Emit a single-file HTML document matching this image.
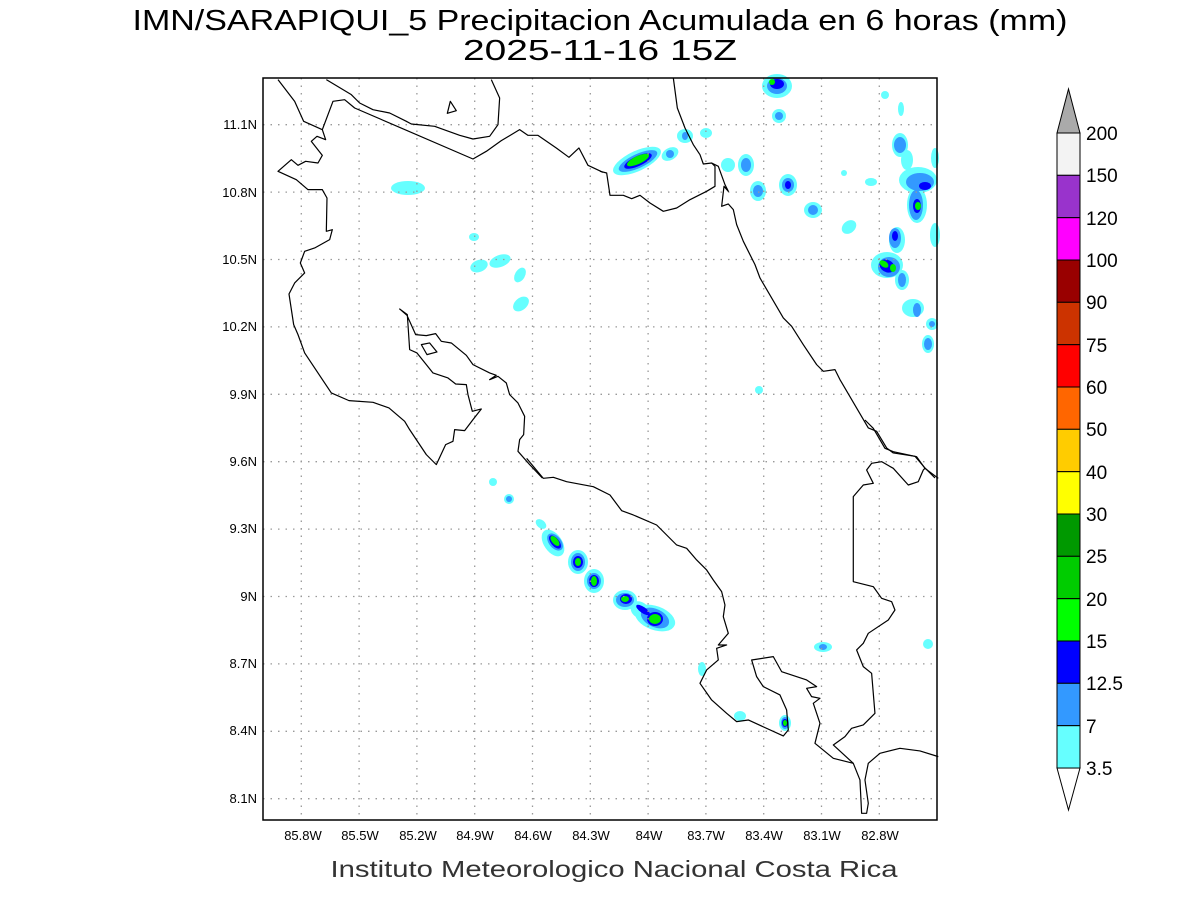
<!DOCTYPE html>
<html><head><meta charset="utf-8"><style>
html,body{margin:0;padding:0;background:#fff;}
svg{display:block;font-family:"Liberation Sans",sans-serif;}
</style></head><body>
<svg width="1200" height="900" viewBox="0 0 1200 900" xmlns="http://www.w3.org/2000/svg">
<rect width="1200" height="900" fill="#fff"/>
<text x="600" y="30" font-size="29" text-anchor="middle" textLength="935" lengthAdjust="spacingAndGlyphs">IMN/SARAPIQUI_5 Precipitacion Acumulada en 6 horas (mm)</text>
<text x="600" y="60" font-size="29" text-anchor="middle" textLength="274" lengthAdjust="spacingAndGlyphs">2025-11-16 15Z</text>

<!-- precipitation -->
<g>
<g fill="#66ffff">
<ellipse cx="408" cy="188" rx="17" ry="7"/>
<ellipse cx="474" cy="237" rx="5" ry="4"/>
<ellipse cx="479" cy="266" rx="9" ry="6" transform="rotate(-20 479 266)"/>
<ellipse cx="500" cy="261" rx="11" ry="6" transform="rotate(-20 500 261)"/>
<ellipse cx="520" cy="275" rx="5" ry="8" transform="rotate(30 520 275)"/>
<ellipse cx="521" cy="304" rx="9" ry="6" transform="rotate(-40 521 304)"/>
<ellipse cx="637" cy="161" rx="26" ry="10" transform="rotate(-25 637 161)"/>
<ellipse cx="670" cy="154" rx="9" ry="6" transform="rotate(-30 670 154)"/>
<ellipse cx="685" cy="136" rx="8" ry="7"/>
<ellipse cx="706" cy="133" rx="6" ry="5"/>
<ellipse cx="777" cy="86" rx="15" ry="12"/>
<ellipse cx="779" cy="116" rx="7" ry="7"/>
<ellipse cx="728" cy="165" rx="7" ry="7"/>
<ellipse cx="746" cy="165" rx="8" ry="11"/>
<ellipse cx="758" cy="191" rx="8" ry="10"/>
<ellipse cx="788" cy="185" rx="9" ry="11"/>
<ellipse cx="813" cy="210" rx="9" ry="8"/>
<ellipse cx="849" cy="227" rx="8" ry="6" transform="rotate(-40 849 227)"/>
<ellipse cx="844" cy="173" rx="3" ry="3"/>
<ellipse cx="871" cy="182" rx="6" ry="4"/>
<ellipse cx="885" cy="95" rx="4" ry="4"/>
<ellipse cx="901" cy="109" rx="3" ry="7"/>
<ellipse cx="900" cy="145" rx="8" ry="12"/>
<ellipse cx="918" cy="180" rx="19" ry="13"/>
<ellipse cx="917" cy="205" rx="10" ry="18"/>
<ellipse cx="897" cy="240" rx="8" ry="13"/>
<ellipse cx="907" cy="160" rx="6" ry="10"/>
<ellipse cx="935" cy="235" rx="5" ry="12"/>
<ellipse cx="935" cy="158" rx="4" ry="10"/>
<ellipse cx="887" cy="265" rx="16" ry="13"/>
<ellipse cx="902" cy="280" rx="7" ry="10"/>
<ellipse cx="913" cy="308" rx="11" ry="9"/>
<ellipse cx="932" cy="324" rx="6" ry="6"/>
<ellipse cx="928" cy="344" rx="6" ry="9"/>
<ellipse cx="759" cy="390" rx="4" ry="4"/>
<ellipse cx="493" cy="482" rx="4" ry="4"/>
<ellipse cx="509" cy="499" rx="5" ry="5"/>
<ellipse cx="541" cy="524" rx="6" ry="4" transform="rotate(40 541 524)"/>
<ellipse cx="553" cy="543" rx="15" ry="9" transform="rotate(55 553 543)"/>
<ellipse cx="578" cy="562" rx="10" ry="12"/>
<ellipse cx="594" cy="581" rx="10" ry="12"/>
<ellipse cx="625" cy="600" rx="12" ry="10"/>
<ellipse cx="640" cy="610" rx="10" ry="8" transform="rotate(35 640 610)"/>
<ellipse cx="655" cy="618" rx="21" ry="12" transform="rotate(20 655 618)"/>
<ellipse cx="702" cy="669" rx="4" ry="7"/>
<ellipse cx="740" cy="716" rx="6" ry="5"/>
<ellipse cx="785" cy="723" rx="6" ry="8"/>
<ellipse cx="823" cy="647" rx="9" ry="5"/>
<ellipse cx="928" cy="644" rx="5" ry="5"/>
</g>
<g fill="#3399ff">
<ellipse cx="638" cy="161" rx="21" ry="7" transform="rotate(-25 638 161)"/>
<ellipse cx="670" cy="154" rx="4" ry="4"/>
<ellipse cx="685" cy="136" rx="3" ry="4"/>
<ellipse cx="777" cy="86" rx="10" ry="8"/>
<ellipse cx="779" cy="116" rx="4" ry="4"/>
<ellipse cx="746" cy="165" rx="5" ry="7"/>
<ellipse cx="758" cy="191" rx="5" ry="6"/>
<ellipse cx="788" cy="185" rx="6" ry="7"/>
<ellipse cx="813" cy="210" rx="5" ry="5"/>
<ellipse cx="900" cy="145" rx="6" ry="8"/>
<ellipse cx="920" cy="182" rx="14" ry="9"/>
<ellipse cx="916" cy="205" rx="7" ry="15"/>
<ellipse cx="895" cy="238" rx="6" ry="10"/>
<ellipse cx="889" cy="267" rx="11" ry="10"/>
<ellipse cx="902" cy="280" rx="4" ry="7"/>
<ellipse cx="917" cy="310" rx="4" ry="7"/>
<ellipse cx="932" cy="324" rx="3" ry="3"/>
<ellipse cx="928" cy="344" rx="4" ry="6"/>
<ellipse cx="509" cy="499" rx="3" ry="3"/>
<ellipse cx="555" cy="542" rx="10" ry="6" transform="rotate(50 555 542)"/>
<ellipse cx="578" cy="562" rx="7" ry="9"/>
<ellipse cx="594" cy="581" rx="7" ry="8"/>
<ellipse cx="625" cy="600" rx="9" ry="7"/>
<ellipse cx="655" cy="618" rx="15" ry="9" transform="rotate(25 655 618)"/>
<ellipse cx="785" cy="723" rx="4" ry="6"/>
<ellipse cx="823" cy="647" rx="4" ry="3"/>
</g>
<g fill="#0000ff">
<ellipse cx="638" cy="161" rx="15" ry="5" transform="rotate(-25 638 161)"/>
<ellipse cx="777" cy="84" rx="7" ry="5"/>
<ellipse cx="788" cy="185" rx="3" ry="4"/>
<ellipse cx="925" cy="186" rx="6" ry="4"/>
<ellipse cx="917" cy="206" rx="4" ry="7"/>
<ellipse cx="895" cy="236" rx="3" ry="5"/>
<ellipse cx="887" cy="266" rx="8" ry="6" transform="rotate(30 887 266)"/>
<ellipse cx="555" cy="542" rx="8" ry="4" transform="rotate(50 555 542)"/>
<ellipse cx="578" cy="562" rx="5" ry="6"/>
<ellipse cx="594" cy="581" rx="5" ry="6"/>
<ellipse cx="626" cy="599" rx="6" ry="5"/>
<ellipse cx="643" cy="610" rx="8" ry="3" transform="rotate(35 643 610)"/>
<ellipse cx="655" cy="619" rx="8" ry="7"/>
<ellipse cx="785" cy="723" rx="3" ry="4"/>
</g>
<g fill="#00ee00">
<ellipse cx="638" cy="160" rx="12" ry="4" transform="rotate(-25 638 160)"/>
<ellipse cx="772" cy="82" rx="3" ry="3"/>
<ellipse cx="918" cy="206" rx="3" ry="4"/>
<ellipse cx="884" cy="264" rx="5" ry="3" transform="rotate(35 884 264)"/>
<ellipse cx="893" cy="268" rx="3" ry="4"/>
<ellipse cx="555" cy="541" rx="6" ry="3" transform="rotate(50 555 541)"/>
<ellipse cx="578" cy="562" rx="3" ry="4"/>
<ellipse cx="594" cy="581" rx="3" ry="5"/>
<ellipse cx="625" cy="599" rx="4" ry="3"/>
<ellipse cx="655" cy="619" rx="6" ry="5"/>
<ellipse cx="785" cy="723" rx="2" ry="3"/>
</g>
</g>

<!-- grid -->
<g stroke="#999" stroke-width="1.3" stroke-dasharray="1.5,6" fill="none">
<path d="M301.3 78V820M359.1 78V820M416.9 78V820M474.7 78V820M532.5 78V820M590.3 78V820M648.1 78V820M705.9 78V820M763.7 78V820M821.5 78V820M879.3 78V820"/>
<path d="M263 124.7H937M263 192.1H937M263 259.5H937M263 326.9H937M263 394.3H937M263 461.7H937M263 529.1H937M263 596.5H937M263 663.9H937M263 731.3H937M263 798.7H937"/>
</g>

<!-- coastlines -->
<g fill="none" stroke="#000" stroke-width="1.2" stroke-linejoin="round">
<g transform="translate(263,78) scale(0.3333)">
<polyline vector-effect="non-scaling-stroke" points="45,5 95,70 122,130 178,155 188,185 162,175 145,190 178,232 165,255 128,250 105,262 85,245 45,280 100,305 135,335 178,335 192,360 190,460 208,455 200,485 155,510 125,520 112,555 125,585 95,615 78,648 92,740 105,770 125,825 205,945 258,968 330,973 378,990 425,1030 440,1055 490,1130 520,1160 548,1100 570,1090 575,1055 605,1058 630,1025 655,993 628,1000 615,950 610,920 578,918 555,900 510,885 490,860 462,825 440,815 433,710 410,693 432,712 458,770 490,773 518,767 535,790 565,795 610,832 630,860 680,885 700,892 680,905 705,895 730,915 740,950 765,975 785,1015 782,1070 770,1085 765,1120 800,1160 838,1200"/>
<polygon vector-effect="non-scaling-stroke" points="475,800 500,795 522,822 492,830"/>
<polygon vector-effect="non-scaling-stroke" points="562,70 580,98 553,106"/>
<polyline vector-effect="non-scaling-stroke" points="190,5 265,50 290,75 330,95 380,105 430,130 445,138 515,145 590,172 630,183 680,175 705,140 710,60 685,5"/>
<polyline vector-effect="non-scaling-stroke" points="178,155 210,70 245,65 275,90 630,243 670,220 715,188 770,155 795,172 825,172 880,210 918,238 948,210 975,262 1020,283"/>
</g>
<g transform="translate(600,78) scale(0.3333)">
<polyline vector-effect="non-scaling-stroke" points="220,0 232,90 255,150 280,200 300,230 310,258 335,255 345,265 345,325 320,340 270,365 230,390 190,400 150,375 120,352 95,362 70,352 30,352 20,285 0,280"/>
<polyline vector-effect="non-scaling-stroke" points="335,255 355,265 375,320 385,340 372,325 365,385 385,378 400,395 410,440 430,490 465,560 480,600 550,720 575,745 610,800 650,860 670,880 705,875 720,905 805,1050 830,1060 860,1110 880,1125 945,1135 975,1170 1005,1200"/>
</g>
<g transform="translate(420,420) scale(0.3333)">
<polyline vector-effect="non-scaling-stroke" points="320,115 370,175 400,172 440,185 520,200 570,225 605,272 640,285 710,315 770,375 800,385 830,420 860,450 880,480 905,515 915,555 910,590 925,640 895,675 920,675 890,685 895,720 860,750 840,790 875,840 920,880 950,905 985,900 1090,948 1105,930 1100,870 1080,825 1030,800 1010,770 995,720 1060,710 1085,755 1160,780 1190,800 1160,805 1175,830 1200,835 1180,850 1200,910 1185,970 1240,1015 1300,1030 1320,1080 1325,1180 1340,1180 1345,1150 1335,1080 1345,1030 1380,1000 1440,985 1500,993 1555,1010"/>
<polyline vector-effect="non-scaling-stroke" points="1335,0 1360,25 1395,85 1420,95 1490,110 1515,145 1555,175"/>
<polyline vector-effect="non-scaling-stroke" points="1515,145 1510,150 1495,185 1465,195 1420,145 1385,125 1355,130 1340,150 1360,190 1330,195 1300,230 1300,485 1360,500 1385,535 1415,545 1425,570 1405,600 1345,640 1330,670 1310,690 1330,740 1355,760 1365,880 1330,915 1295,925 1275,950 1240,975 1300,1030"/>
</g>
</g>

<rect x="263" y="78" width="674" height="742" fill="none" stroke="#000" stroke-width="1.5"/>

<!-- y labels -->
<g font-size="13" text-anchor="end">
<text x="257" y="129">11.1N</text>
<text x="257" y="197">10.8N</text>
<text x="257" y="264">10.5N</text>
<text x="257" y="331">10.2N</text>
<text x="257" y="399">9.9N</text>
<text x="257" y="466">9.6N</text>
<text x="257" y="533">9.3N</text>
<text x="257" y="601">9N</text>
<text x="257" y="668">8.7N</text>
<text x="257" y="735">8.4N</text>
<text x="257" y="803">8.1N</text>
</g>
<g font-size="13" text-anchor="middle">
<text x="303" y="840">85.8W</text>
<text x="360" y="840">85.5W</text>
<text x="418" y="840">85.2W</text>
<text x="475" y="840">84.9W</text>
<text x="533" y="840">84.6W</text>
<text x="591" y="840">84.3W</text>
<text x="649" y="840">84W</text>
<text x="706" y="840">83.7W</text>
<text x="764" y="840">83.4W</text>
<text x="822" y="840">83.1W</text>
<text x="880" y="840">82.8W</text>
</g>
<text x="614" y="877" font-size="23" text-anchor="middle" fill="#333" textLength="567" lengthAdjust="spacingAndGlyphs">Instituto Meteorologico Nacional Costa Rica</text>

<!-- colorbar -->
<g stroke="#000" stroke-width="1">
<polygon points="1057,133 1080,133 1068.5,89" fill="#aaaaaa"/>
<polygon points="1057,768 1080,768 1068.5,810" fill="#fff"/>
<rect x="1057" y="133" width="23" height="42.33" fill="#f3f3f3"/>
<rect x="1057" y="175.3" width="23" height="42.33" fill="#9933cc"/>
<rect x="1057" y="217.7" width="23" height="42.33" fill="#ff00ff"/>
<rect x="1057" y="260" width="23" height="42.33" fill="#990000"/>
<rect x="1057" y="302.3" width="23" height="42.33" fill="#cc3300"/>
<rect x="1057" y="344.7" width="23" height="42.33" fill="#ff0000"/>
<rect x="1057" y="387" width="23" height="42.33" fill="#ff6600"/>
<rect x="1057" y="429.3" width="23" height="42.33" fill="#ffcc00"/>
<rect x="1057" y="471.7" width="23" height="42.33" fill="#ffff00"/>
<rect x="1057" y="514" width="23" height="42.33" fill="#009900"/>
<rect x="1057" y="556.3" width="23" height="42.33" fill="#00cc00"/>
<rect x="1057" y="598.7" width="23" height="42.33" fill="#00ff00"/>
<rect x="1057" y="641" width="23" height="42.33" fill="#0000ff"/>
<rect x="1057" y="683.3" width="23" height="42.33" fill="#3399ff"/>
<rect x="1057" y="725.7" width="23" height="42.33" fill="#66ffff"/>
</g>
<g font-size="19">
<text x="1086" y="140">200</text>
<text x="1086" y="182">150</text>
<text x="1086" y="225">120</text>
<text x="1086" y="267">100</text>
<text x="1086" y="309">90</text>
<text x="1086" y="352">75</text>
<text x="1086" y="394">60</text>
<text x="1086" y="436">50</text>
<text x="1086" y="479">40</text>
<text x="1086" y="521">30</text>
<text x="1086" y="563">25</text>
<text x="1086" y="606">20</text>
<text x="1086" y="648">15</text>
<text x="1086" y="690">12.5</text>
<text x="1086" y="733">7</text>
<text x="1086" y="775">3.5</text>
</g>
</svg>
</body></html>
